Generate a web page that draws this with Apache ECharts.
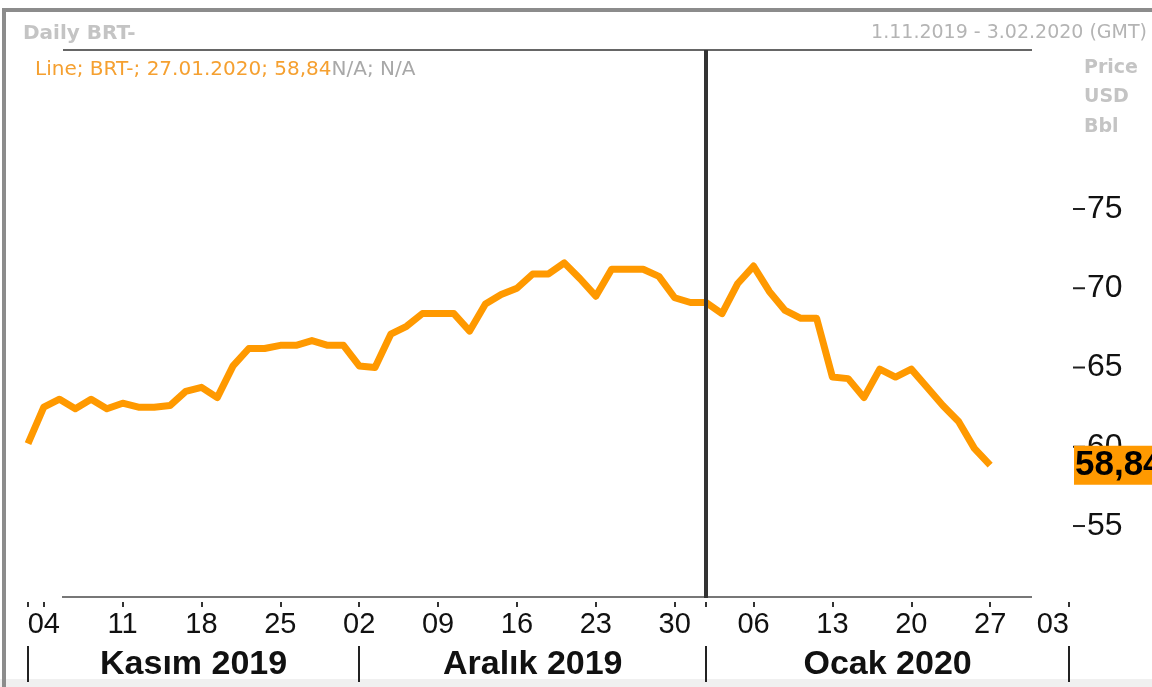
<!DOCTYPE html>
<html>
<head>
<meta charset="utf-8">
<title>Daily BRT-</title>
<script src="https://cdn.jsdelivr.net/npm/echarts@6/dist/echarts.min.js"></script>
<style>
html, body { margin: 0; padding: 0; background: #fff; }
#chart { width: 1152px; height: 687px; }
</style>
</head>
<body>
<div id="chart"></div>
<script>
// işlem günleri 01.11.2019 - 03.02.2020
const days = [
  '01.11', '04.11', '05.11', '06.11', '07.11', '08.11', '11.11', '12.11', '13.11', '14.11', '15.11',
  '18.11', '19.11', '20.11', '21.11', '22.11', '25.11', '26.11', '27.11', '28.11', '29.11',
  '02.12', '03.12', '04.12', '05.12', '06.12', '09.12', '10.12', '11.12', '12.12', '13.12', '16.12',
  '17.12', '18.12', '19.12', '20.12', '23.12', '24.12', '25.12', '26.12', '27.12', '30.12', '31.12',
  '01.01', '02.01', '03.01', '06.01', '07.01', '08.01', '09.01', '10.01', '13.01', '14.01', '15.01',
  '16.01', '17.01', '20.01', '21.01', '22.01', '23.01', '24.01', '27.01', '28.01', '29.01', '30.01',
  '31.01', '03.02',
]
const prices = [
  60.2, 62.5, 63.0, 62.4, 63.0, 62.4, 62.75, 62.5, 62.5, 62.6, 63.5,
  63.75, 63.1, 65.1, 66.2, 66.2, 66.4, 66.4, 66.7, 66.4, 66.4,
  65.1, 65.0, 67.1, 67.6, 68.4, 68.4, 68.4, 67.3, 69.0, 69.6, 70.0,
  70.9, 70.9, 71.6, 70.6, 69.5, 71.2, 71.2, 71.2, 70.75, 69.4, 69.1,
  69.1, 68.4, 70.3, 71.4, 69.8, 68.6, 68.1, 68.1, 64.4, 64.3, 63.1,
  64.9, 64.4, 64.9, 63.75, 62.6, 61.6, 59.9, 58.84,
]
const weekTicks = ['04.11', '11.11', '18.11', '25.11', '02.12', '09.12', '16.12', '23.12', '30.12',
  '06.01', '13.01', '20.01', '27.01', '03.02']
const monthStarts = ['01.11', '02.12', '01.01', '03.02']
const monthNames = ['Kasım 2019', 'Aralık 2019', 'Ocak 2020']
const yTicks = [55, 60, 65, 70, 75]
const yearLine = '01.01'

const monthIdx = monthStarts.map((d) => days.indexOf(d))
const monthMids = monthNames.map((_, i) => (monthIdx[i] + monthIdx[i + 1]) / 2)
const last = prices[prices.length - 1]
const fmt = (v) => v.toFixed(2).replace('.', ',')

const options = {
  animation: false,
  grid: { left: 28, right: 83, top: 50, bottom: 89 },
  graphic: [
    // çerçeve
    { type: 'rect', shape: { x: 0, y: 679, width: 1152, height: 8 }, style: { fill: '#f0f0f0' }, silent: true },
    { type: 'line', shape: { x1: 4, y1: 10, x2: 1152, y2: 10 }, style: { stroke: '#8c8c8c', lineWidth: 4 } },
    { type: 'line', shape: { x1: 4, y1: 8, x2: 4, y2: 687 }, style: { stroke: '#8c8c8c', lineWidth: 4 } },
    { type: 'line', shape: { x1: 63, y1: 50, x2: 1032, y2: 50 }, style: { stroke: '#666', lineWidth: 2 } },
    { type: 'line', shape: { x1: 62, y1: 597, x2: 1032, y2: 597 }, style: { stroke: '#777', lineWidth: 2 } },
    {
      type: 'text', left: 23, top: 24,
      style: { text: 'Daily BRT-', font: 'bold 20px "DejaVu Sans"', fill: '#c4c4c4' },
    },
    {
      type: 'text', right: 5, top: 24,
      style: { text: '1.11.2019 - 3.02.2020 (GMT)', font: '19px "DejaVu Sans"', fill: '#b4b4b4' },
    },
    {
      type: 'text', left: 35, top: 60,
      style: {
        text: '{o|Line; BRT-; 27.01.2020; ' + fmt(last) + '}{g|N/A; N/A}',
        rich: {
          o: { font: '20px "DejaVu Sans"', fill: '#f5a030' },
          g: { font: '20px "DejaVu Sans"', fill: '#a8a8a8' },
        },
      },
    },
    {
      type: 'text', left: 1084, top: 53,
      style: { text: 'Price\nUSD\nBbl', font: 'bold 19px "DejaVu Sans"', lineHeight: 29.5, fill: '#c4c4c4' },
    },
  ],
  xAxis: [
    {
      type: 'category',
      data: days,
      boundaryGap: false,
      offset: 4,
      axisLine: { show: false },
      axisTick: {
        show: true,
        length: 5,
        interval: (i, v) => weekTicks.includes(v) || monthStarts.includes(v),
        lineStyle: { color: '#333', width: 2 },
      },
      axisLabel: {
        interval: (i, v) => weekTicks.includes(v),
        formatter: (v) => v.slice(0, 2),
        alignMaxLabel: 'right',
        margin: 8,
        fontFamily: 'Liberation Sans',
        fontSize: 29,
        color: '#111',
      },
      splitLine: { show: false },
    },
    {
      type: 'value',
      min: 0,
      max: days.length - 1,
      position: 'bottom',
      offset: 48,
      axisLine: { show: false },
      axisTick: {
        show: true,
        customValues: monthIdx,
        length: 36,
        lineStyle: { color: '#222', width: 2 },
      },
      axisLabel: {
        customValues: monthMids,
        formatter: (v) => monthNames[monthMids.indexOf(v)],
        margin: 2,
        fontFamily: 'Liberation Sans',
        fontWeight: 'bold',
        fontSize: 34,
        color: '#111',
      },
      splitLine: { show: false },
    },
  ],
  yAxis: {
    type: 'value',
    position: 'right',
    min: 50.46,
    max: 85.03,
    axisLine: { show: false },
    axisTick: { show: false },
    axisLabel: {
      customValues: yTicks,
      margin: 4,
      formatter: (v) => '{t|}{v|' + v + '}',
      rich: {
        t: { width: 12, height: 2, backgroundColor: '#222' },
        v: { fontFamily: 'Liberation Sans', fontSize: 32, color: '#111', padding: [0, 0, 0, 2] },
      },
    },
    splitLine: { show: false },
  },
  series: [
    {
      name: 'BRT-',
      type: 'line',
      data: prices,
      showSymbol: false,
      lineStyle: { color: '#ff9900', width: 7, join: 'round' },
      itemStyle: { color: '#ff9900' },
      z: 3,
      markLine: {
        silent: true,
        symbol: ['none', 'none'],
        data: [
          {
            xAxis: yearLine,
            lineStyle: { color: '#333', width: 4, type: 'solid' },
            label: { show: false },
          },
          {
            yAxis: last,
            lineStyle: { color: 'rgba(0,0,0,0)', width: 0 },
            label: {
              show: true,
              position: 'end',
              distance: 5,
              formatter: () => fmt(last),
              backgroundColor: '#ff9900',
              padding: [2, 2, 1, 1],
              color: '#000',
              fontFamily: 'Liberation Sans',
              fontWeight: 'bold',
              fontSize: 35,
              lineHeight: 36,
            },
          },
        ],
      },
    },
  ],
}

const chart = echarts.init(document.getElementById('chart'))
chart.setOption(options)
</script>
</body>
</html>
